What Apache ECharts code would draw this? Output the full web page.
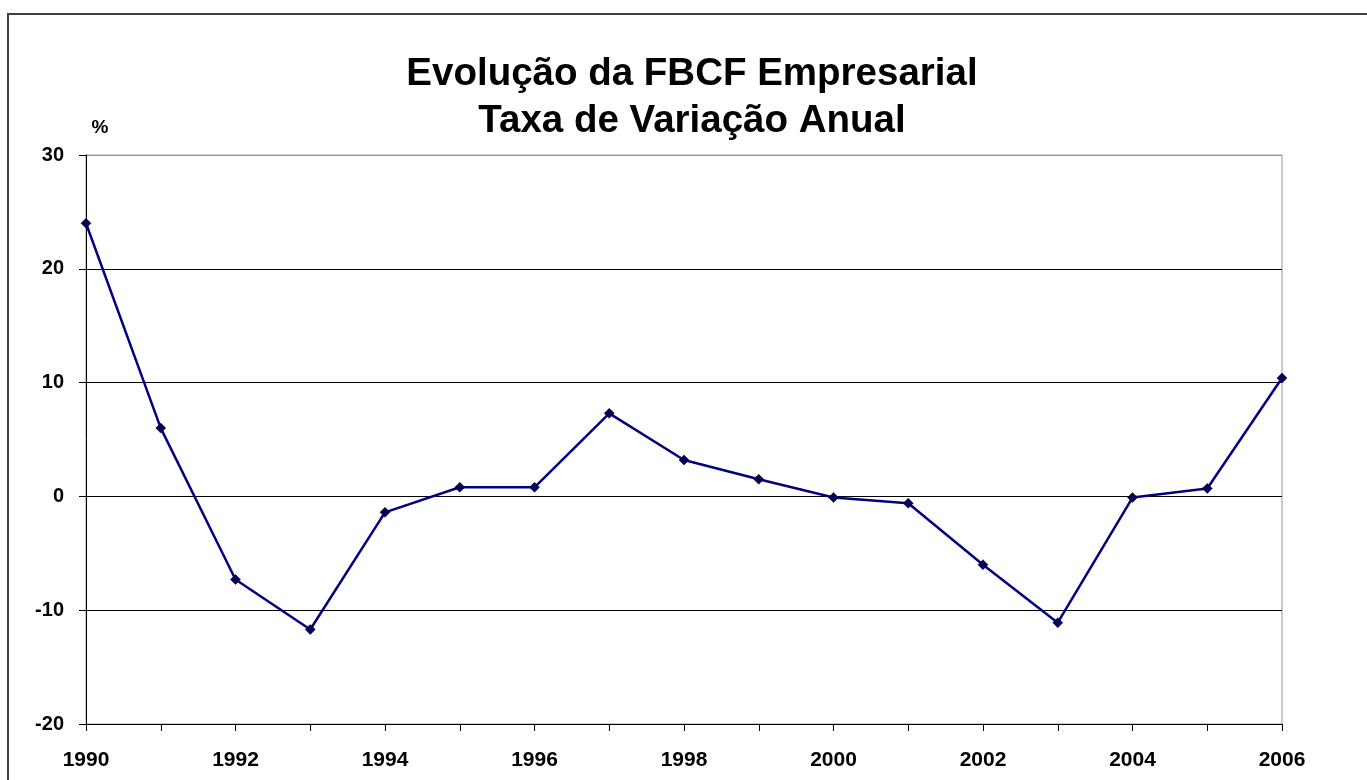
<!DOCTYPE html>
<html>
<head>
<meta charset="utf-8">
<title>Evolução da FBCF Empresarial</title>
<script src="https://cdn.jsdelivr.net/npm/echarts@6/dist/echarts.min.js"></script>
<style>
    html, body { margin: 0; padding: 0; background: #fff; }
    #chart { width: 1367px; height: 780px; }
</style>
</head>
<body>
<div id="chart"></div>
<script>
// anos (eixo x)
const years = ['1990', '1991', '1992', '1993', '1994', '1995', '1996', '1997', '1998',
               '1999', '2000', '2001', '2002', '2003', '2004', '2005', '2006'];
// taxa de variação anual da FBCF empresarial (%)
const fbcfRate = [24.0, 6.0, -7.3, -11.7, -1.4, 0.8, 0.8, 7.3, 3.2,
                  1.5, -0.1, -0.6, -6.0, -11.1, -0.1, 0.7, 10.4];
// escala do eixo y
const yTicks = [-20, -10, 0, 10, 20, 30];
// título (duas linhas)
const titleLines = ['Evolução da FBCF Empresarial', 'Taxa de Variação Anual'];

const chart = echarts.init(document.getElementById('chart'));

const font = 'Liberation Sans, Arial, sans-serif';

// linhas do título centradas
const titleGraphics = titleLines.map((line, i) => ({
    type: 'text',
    x: 692,
    y: 74 + i * 47,
    style: {
        text: line,
        fontFamily: font,
        fontSize: 38.5,
        fontWeight: 'bold',
        fill: '#000',
        align: 'center',
        verticalAlign: 'middle'
    },
    silent: true
}));

const option = {
    backgroundColor: '#fff',
    animation: false,
    graphic: [
        {
            // moldura exterior
            type: 'rect',
            shape: { x: 8, y: 14, width: 1420, height: 820 },
            style: { fill: null, stroke: '#404040', lineWidth: 2 },
            silent: true
        },
        ...titleGraphics,
        {
            type: 'text',
            x: 100,
            y: 128,
            style: {
                text: '%',
                fontFamily: font,
                fontSize: 19,
                fontWeight: 'bold',
                fill: '#000',
                align: 'center',
                verticalAlign: 'middle'
            },
            silent: true
        }
    ],
    grid: {
        left: 86,
        right: 85,
        top: 155,
        bottom: 56,
        show: true,
        borderColor: '#999',
        borderWidth: 1,
        backgroundColor: 'transparent'
    },
    xAxis: {
        type: 'category',
        data: years,
        boundaryGap: false,
        axisLine: { onZero: false, lineStyle: { color: '#000', width: 1 } },
        axisTick: {
            show: true,
            interval: 0,
            length: 7,
            lineStyle: { color: '#000' }
        },
        axisLabel: {
            interval: 1,
            margin: 26,
            fontFamily: font,
            fontSize: 21,
            fontWeight: 'bold',
            color: '#000'
        },
        splitLine: { show: false }
    },
    yAxis: {
        type: 'value',
        min: yTicks[0],
        max: yTicks[yTicks.length - 1],
        interval: 10,
        axisLine: { show: true, lineStyle: { color: '#000', width: 1 } },
        axisTick: { show: true, length: 7, lineStyle: { color: '#000' } },
        axisLabel: {
            margin: 22,
            fontFamily: font,
            fontSize: 20,
            fontWeight: 'bold',
            color: '#000'
        },
        splitLine: {
            show: true,
            lineStyle: {
                color: ['#000', '#000', '#000', '#000', '#000', '#999'],
                width: 1
            }
        }
    },
    series: [
        {
            name: 'FBCF Empresarial',
            type: 'line',
            data: fbcfRate,
            symbol: 'diamond',
            symbolSize: 10,
            lineStyle: { color: '#000080', width: 2.5 },
            itemStyle: { color: '#00005a', borderColor: '#000', borderWidth: 0.5 },
            z: 5
        }
    ]
};

chart.setOption(option);
</script>
</body>
</html>
